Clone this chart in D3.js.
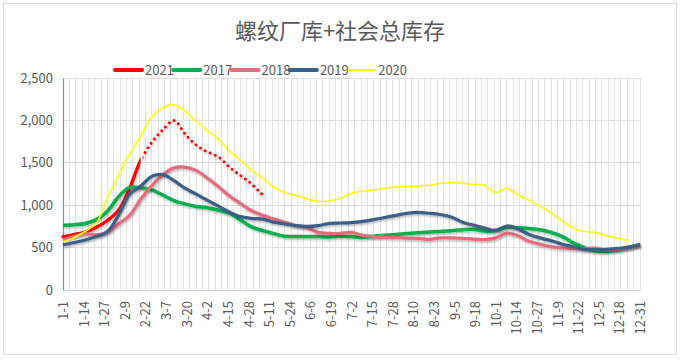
<!DOCTYPE html>
<html><head><meta charset="utf-8">
<script src="https://cdn.jsdelivr.net/npm/d3@7"></script>
<style>
html,body{margin:0;padding:0;background:#fff;}
text{font-family:"Microsoft YaHei","Noto Sans CJK SC","Noto Sans",sans-serif;}
</style></head>
<body><svg id="c" width="685" height="360"></svg>
<script>
// ---- data ----
const title = "螺纹厂库+社会总库存";
const weeks = ["1-1","1-8","1-15","1-22","1-29","2-5","2-12","2-19","2-26","3-5","3-12","3-19","3-26",
"4-2","4-9","4-16","4-23","4-30","5-7","5-14","5-21","5-28","6-4","6-11","6-18","6-25",
"7-2","7-9","7-16","7-23","7-30","8-6","8-13","8-20","8-27","9-3","9-10","9-17","9-24",
"10-1","10-8","10-15","10-22","10-29","11-5","11-12","11-19","11-26","12-3","12-10","12-17","12-24","12-31"];
const xTickLabels = ["1-1","1-14","1-27","2-9","2-22","3-7","3-20","4-2","4-15","4-28","5-11","5-24","6-6",
"6-19","7-2","7-15","7-28","8-10","8-23","9-5","9-18","10-1","10-14","10-27","11-9","11-22","12-5","12-18","12-31"];
const yTicks = [0,500,1000,1500,2000,2500];
const seriesNames = ["2021","2017","2018","2019","2020"];
const v2021 = [630,655,685,740,820,940,1200,1530,1740,1890,2000,1840,1710,1630,1570,1450,1350,1250,1120];
const v2021SolidUntil = "2-19";
const v2017 = [765,770,785,830,930,1100,1210,1205,1180,1120,1055,1015,985,970,940,905,825,745,700,665,635,630,
630,630,625,635,630,622,635,645,655,665,675,685,690,700,710,715,695,700,740,735,725,710,680,630,555,500,460,455,475,505,535];
const v2018 = [590,630,665,650,680,780,880,1070,1230,1360,1440,1450,1410,1320,1220,1110,1020,935,880,840,800,760,
735,680,668,668,680,645,630,622,620,612,608,597,615,615,610,600,595,615,670,640,575,540,510,495,488,485,495,472,480,500,525];
const v2019 = [530,560,590,630,690,880,1130,1225,1340,1360,1290,1200,1130,1060,990,920,865,845,835,800,780,760,
750,760,786,790,795,810,830,855,880,905,915,905,890,860,800,765,730,705,755,720,655,615,580,540,510,480,475,480,490,505,535];
const v2020 = [570,620,690,790,1080,1350,1600,1810,2040,2150,2185,2110,1990,1880,1780,1640,1530,1410,1320,1215,1150,1115,
1075,1045,1050,1080,1140,1165,1180,1200,1215,1218,1225,1235,1255,1265,1258,1245,1235,1150,1200,1125,1060,990,910,815,731,690,678,640,610,581];
const colors = ["#ff0000","#00b050","#e46c7b","#3a5f87","#ffff00"];
const widths = [3,3.5,3.2,3.2,1.6];

// ---- chart ----
const svg = d3.select("#c");
const toDate = s => { const [m,d] = s.split("-").map(Number); return new Date(2021, m-1, d); };
const M = {l:63, r:640, t:78, b:290};
const x = d3.scaleTime().domain([new Date(2021,0,1), new Date(2021,11,31)]).range([M.l, M.r]);
const y = d3.scaleLinear().domain([0,2500]).range([M.b, M.t]);

const defs = svg.append("defs");
const f = defs.append("filter").attr("id","sh").attr("x","-5%").attr("y","-20%").attr("width","110%").attr("height","140%");
f.append("feDropShadow").attr("dx",1).attr("dy",1.5).attr("stdDeviation",1.2).attr("flood-color","#000").attr("flood-opacity",0.3);

svg.append("rect").attr("x",3.5).attr("y",3.5).attr("width",673).attr("height",351)
  .attr("fill","#fff").attr("stroke","#d9d9d9");

svg.append("text").attr("x",340).attr("y",39).attr("text-anchor","middle")
  .attr("font-size",22).attr("fill","#595959").text(title);

// vertical gridlines every 4 days
const gridDays = d3.timeDay.range(new Date(2021,0,5), new Date(2022,0,1)).filter((d,i)=> i%4===0);
svg.append("g").selectAll("line").data(gridDays).join("line")
  .attr("x1",d=>x(d)).attr("x2",d=>x(d)).attr("y1",y(2500)).attr("y2",y(0))
  .attr("stroke","#e3e3e3").attr("stroke-width",1).attr("shape-rendering","crispEdges");
// horizontal gridlines
svg.append("g").selectAll("line").data(yTicks.slice(1)).join("line")
  .attr("x1",M.l).attr("x2",M.r).attr("y1",d=>y(d)).attr("y2",d=>y(d))
  .attr("stroke","#dcdcdc").attr("shape-rendering","crispEdges");

// y axis
const ya = svg.append("g").attr("transform",`translate(${M.l},0)`)
  .call(d3.axisLeft(y).tickValues(yTicks).tickFormat(d3.format(",")).tickSize(0).tickPadding(10));
ya.select(".domain").attr("stroke","#5b9bd5").attr("stroke-width",1.2);
ya.selectAll("text").attr("font-size",13).attr("fill","#595959");

// x axis
const xa = svg.append("g").attr("transform",`translate(0,${M.b})`)
  .call(d3.axisBottom(x).tickValues(xTickLabels.map(toDate)).tickFormat((d,i)=>xTickLabels[i]).tickSize(0));
xa.select(".domain").attr("stroke","#c8d3e0");
xa.selectAll("text").attr("font-size",13).attr("fill","#595959")
  .attr("transform","rotate(-90)").attr("text-anchor","end").attr("dy","0.35em").attr("x",-11).attr("y",0);

const line = d3.line().defined(d=>d.v!=null).x(d=>x(d.date)).y(d=>y(d.v)).curve(d3.curveCatmullRom.alpha(0.5));
const mk = vals => vals.map((v,i)=>({date:toDate(weeks[i]), v}));
const allVals = [v2021, v2017, v2018, v2019, v2020];

const g = svg.append("g");
allVals.forEach((vals,k)=>{
  const pts = mk(vals);
  if (k===0) {
    const cut = weeks.indexOf(v2021SolidUntil);
    defs.append("clipPath").attr("id","clipDot").append("rect")
      .attr("x",x(pts[cut].date)+2).attr("y",0).attr("width",685).attr("height",360);
    defs.append("clipPath").attr("id","clipSolid").append("rect")
      .attr("x",0).attr("y",0).attr("width",x(pts[cut].date)).attr("height",360);
    g.append("path").attr("d", line(pts)).attr("fill","none")
      .attr("stroke",colors[0]).attr("stroke-width",3).attr("stroke-linecap","round")
      .attr("stroke-dasharray","0 5.5").attr("filter","url(#sh)")
      .attr("clip-path","url(#clipDot)");
    g.append("path").attr("d", line(pts)).attr("fill","none")
      .attr("stroke",colors[0]).attr("stroke-width",3.2).attr("stroke-linecap","round")
      .attr("clip-path","url(#clipSolid)").attr("filter","url(#sh)");
  } else {
    g.append("path").attr("d", line(pts)).attr("fill","none")
      .attr("stroke",colors[k]).attr("stroke-width",widths[k]).attr("stroke-linejoin","round")
      .attr("filter", k===4 ? null : "url(#sh)");
  }
});

// legend
const lg = svg.append("g");
seriesNames.forEach((n,i)=>{
  const x0 = 115 + i*58.3;
  lg.append("line").attr("x1",x0).attr("x2",x0+27).attr("y1",70).attr("y2",70)
    .attr("stroke",colors[i]).attr("stroke-width", i===4?2:4).attr("stroke-linecap","round");
  lg.append("text").attr("x",x0+30).attr("y",75).attr("font-size",13).attr("fill","#595959").text(n);
});
</script></body></html>
